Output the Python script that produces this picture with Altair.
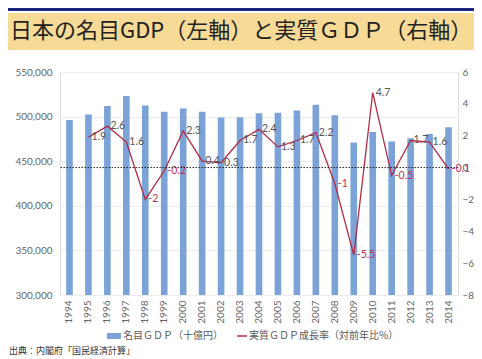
import altair as alt
import pandas as pd

years = ["1994", "1995", "1996", "1997", "1998", "1999", "2000", "2001", "2002", "2003",
         "2004", "2005", "2006", "2007", "2008", "2009", "2010", "2011", "2012", "2013", "2014"]
nominal_gdp = [496200, 502400, 512000, 523000, 512500, 505300, 509100, 505500, 499000, 499300,
               503700, 504400, 506700, 513400, 501400, 471000, 482700, 472000, 475700, 480500, 488000]
real_growth = [None, 1.9, 2.6, 1.6, -2, -0.2, 2.3, 0.4, 0.3, 1.7,
               2.4, 1.3, 1.7, 2.2, -1, -5.5, 4.7, -0.5, 1.7, 1.6, -0.1]
left_ticks = [300000, 350000, 400000, 450000, 500000, 550000]
right_ticks = [-8, -6, -4, -2, 0, 2, 4, 6]

title_text = "日本の名目GDP（左軸）と実質ＧＤＰ（右軸）"
legend_bar = "名目ＧＤＰ（十億円）"
legend_line = "実質ＧＤＰ成長率（対前年比%）"
source_text = "出典：内閣府「国民経済計算」"

df = pd.DataFrame({"year": years, "gdp": nominal_gdp, "growth": real_growth})
one = pd.DataFrame({"k": [0]})

BLUE = "#7ba3d8"
RED = "#b02c45"
GRAY = "#666666"
JP = "Noto Sans CJK JP"

xaxis = alt.Axis(title=None, labelAngle=-90, labelFont="Lato", labelFontSize=10,
                 labelColor=GRAY, ticks=False, domain=False, labelPadding=5,
                 labelOverlap=False)
xscale = alt.Scale(paddingInner=0.65, paddingOuter=0.325)

bars = alt.Chart(df).mark_bar(color=BLUE, clip=True).encode(
    x=alt.X("year:N", sort=None, scale=xscale, axis=xaxis),
    y=alt.Y("gdp:Q", scale=alt.Scale(domain=[300000, 550000], nice=False, zero=False),
            axis=alt.Axis(title=None, values=left_ticks,
                          labelExpr="floor(datum.value / 1000) + ',000'",
                          grid=True, gridColor="#ececec", ticks=False, domain=False,
                          labelPadding=8, labelOverlap=False,
                          labelFont="Lato", labelFontSize=10, labelColor=GRAY)),
)

raxis = alt.Axis(title=None, orient="right", values=right_ticks, grid=False,
                 ticks=False, domain=False, labelPadding=4, labelOverlap=False,
                 labelFont="Lato", labelFontSize=10, labelColor=GRAY)
rscale = alt.Scale(domain=[-8, 6], nice=False)
yline = alt.Y("growth:Q", scale=rscale, axis=raxis)
xc = alt.X("year:N", sort=None, scale=xscale, axis=xaxis, bandPosition=0.5)

rule = alt.Chart(one).mark_rule(color="#222222", strokeDash=[1.5, 1.5], strokeWidth=1).encode(
    y=alt.Y("k:Q", scale=rscale, axis=raxis)
)
line = alt.Chart(df).transform_filter("isValid(datum.growth)").mark_line(
    color=RED, strokeWidth=1.3).encode(x=xc, y=yline)
labels = alt.Chart(df).transform_filter("isValid(datum.growth)").transform_calculate(
    lab="'' + datum.growth").mark_text(
    align="left", baseline="middle", dx=3, fontSize=10.5, font="Lato").encode(
    x=xc, y=yline, text="lab:N",
    color=alt.condition("datum.growth < 0", alt.value("#c0305a"), alt.value("#555555")),
)
inner = alt.layer(line, labels, rule)

navy = alt.Chart(one).mark_rect(color="#1b2580").encode(
    x=alt.value(-52), x2=alt.value(414), y=alt.value(-64), y2=alt.value(-61))
band = alt.Chart(one).mark_rect(color="#f6da95").encode(
    x=alt.value(-52), x2=alt.value(414), y=alt.value(-59), y2=alt.value(-22))
title = alt.Chart(one).mark_text(text=title_text, font=JP, fontSize=22, color="#222222",
                                 align="left", baseline="middle").encode(
    x=alt.value(-50), y=alt.value(-41))
leg_rect = alt.Chart(one).mark_rect(color=BLUE).encode(
    x=alt.value(47), x2=alt.value(61), y=alt.value(261), y2=alt.value(267))
leg_text1 = alt.Chart(one).mark_text(text=legend_bar, font=JP, fontSize=10, color="#595959",
                                     align="left", baseline="middle").encode(
    x=alt.value(63), y=alt.value(264))
leg_line = alt.Chart(one).mark_rule(color=RED, strokeWidth=1.5).encode(
    x=alt.value(177), x2=alt.value(187), y=alt.value(264))
leg_text2 = alt.Chart(one).mark_text(text=legend_line, font=JP, fontSize=10, color="#595959",
                                     align="left", baseline="middle").encode(
    x=alt.value(189), y=alt.value(264))
source = alt.Chart(one).mark_text(text=source_text, font=JP, fontSize=9, color="#333333",
                                  align="left", baseline="middle").encode(
    x=alt.value(-51), y=alt.value(279))

chart = alt.layer(
    navy, band, title, bars, inner, leg_rect, leg_text1, leg_line, leg_text2, source
).resolve_scale(y="independent").properties(
    width=398, height=223,
    padding={"left": 52, "top": 64, "right": 16, "bottom": 64},
    autosize="none",
).configure_view(stroke=None).configure(background="white")

chart.save("out.html", embed_options={"renderer": "svg", "actions": False})
